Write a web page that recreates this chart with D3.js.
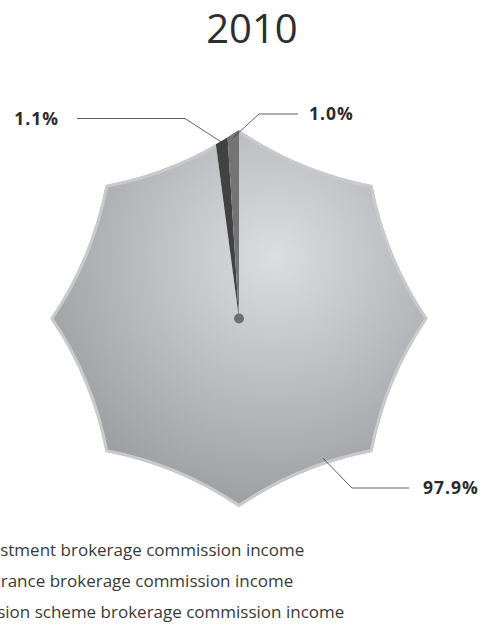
<!DOCTYPE html>
<html>
<head>
<meta charset="utf-8">
<script src="https://cdn.jsdelivr.net/npm/d3@7"></script>
<style>
  html, body { margin: 0; padding: 0; background: #fff; }
  svg { display: block; font-family: "Open Sans", "DejaVu Sans", sans-serif; }
</style>
</head>
<body>
<div id="chart"></div>
<script>
'use strict';

// chart data
var title = '2010';
var categories = [
  'Investment brokerage commission income',
  'Insurance brokerage commission income',
  'Pension scheme brokerage commission income'
];
var values = [97.9, 1.1, 1.0];
var valueLabels = ['97.9%', '1.1%', '1.0%'];

var width = 489, height = 637;
var cx = 239, cy = 318.5;
var outerR = 187;      // star tips
var innerR = 158;      // control points of the concave edges
var colors = ['url(#mainGrad)', '#424242', '#747474'];

// leader line layout, one per slice (angle in degrees, null = slice middle)
var leaders = [
  { angle: 149, r: 163, ex: 352, ey: 488, tx: 409, anchor: 'start', lx: 423 },
  { angle: null, r: 177, ex: 185, ey: 118.5, tx: 77, anchor: 'end', lx: 59 },
  { angle: null, r: 181, ex: 259, ey: 114, tx: 298, anchor: 'start', lx: 309 }
];

var svg = d3.select('#chart').append('svg')
  .attr('width', width)
  .attr('height', height);

var defs = svg.append('defs');
// gradient coordinates are relative to the pie centre
var grad = defs.append('radialGradient')
  .attr('id', 'mainGrad')
  .attr('gradientUnits', 'userSpaceOnUse')
  .attr('cx', 35).attr('cy', -62).attr('r', 290);
grad.append('stop').attr('offset', 0).attr('stop-color', '#dcdde0');
grad.append('stop').attr('offset', 1).attr('stop-color', '#949598');

// 8-point star with concave edges
var starPath = function(R, r) {
  var p = d3.path();
  for (var i = 0; i < 8; i++) {
    var a0 = i * Math.PI / 4;
    var a1 = (i + 1) * Math.PI / 4;
    var am = (a0 + a1) / 2;
    if (i === 0) {
      p.moveTo(R * Math.sin(a0), -R * Math.cos(a0));
    }
    p.quadraticCurveTo(r * Math.sin(am), -r * Math.cos(am),
      R * Math.sin(a1), -R * Math.cos(a1));
  }
  p.closePath();
  return p.toString();
};

defs.append('clipPath').attr('id', 'starClip')
  .append('path')
  .attr('d', starPath(outerR + 1.5, innerR + 1.5));

svg.append('text')
  .attr('x', 252)
  .attr('y', 43)
  .attr('text-anchor', 'middle')
  .attr('font-size', 40)
  .attr('font-weight', 400)
  .attr('fill', '#2e2e2e')
  .text(title);

var g = svg.append('g').attr('transform', 'translate(' + cx + ',' + cy + ')');

var pie = d3.pie().sort(null);
var arcs = pie(values);
var arc = d3.arc().innerRadius(0).outerRadius(260);

var slices = g.append('g').attr('clip-path', 'url(#starClip)');

slices.append('path')
  .attr('d', arc(arcs[0]))
  .attr('fill', colors[0]);

g.append('path')
  .attr('d', starPath(outerR, innerR))
  .attr('fill', 'none')
  .attr('stroke', '#c9cacc')
  .attr('stroke-width', 3);

var small = g.append('g').attr('clip-path', 'url(#starClip)');
small.selectAll('path')
  .data(arcs.slice(1))
  .enter().append('path')
  .attr('d', arc)
  .attr('fill', function(d, i) { return colors[i + 1]; });

g.append('circle')
  .attr('r', 5)
  .attr('cx', 0)
  .attr('cy', 0)
  .attr('fill', '#6e6f72');

// leader lines and value labels
arcs.forEach(function(d, i) {
  var L = leaders[i];
  var a = L.angle === null ? (d.startAngle + d.endAngle) / 2 : L.angle * Math.PI / 180;
  var sx = cx + L.r * Math.sin(a);
  var sy = cy - L.r * Math.cos(a);
  svg.append('polyline')
    .attr('points', [[sx, sy], [L.ex, L.ey], [L.tx, L.ey]].map(function(p) { return p.join(','); }).join(' '))
    .attr('fill', 'none')
    .attr('stroke', '#3a3a3a')
    .attr('stroke-width', 0.8);
  svg.append('text')
    .attr('x', L.lx)
    .attr('y', L.ey)
    .attr('dy', '0.36em')
    .attr('text-anchor', L.anchor)
    .attr('font-size', 17.5)
    .attr('font-weight', 700)
    .attr('letter-spacing', 1)
    .attr('fill', '#2b2b2b')
    .text(valueLabels[i]);
});

// legend (runs off the left edge like the original)
var legend = svg.append('g').attr('transform', 'translate(-33,0)');
var rows = legend.selectAll('g')
  .data(categories)
  .enter().append('g')
  .attr('transform', function(d, i) { return 'translate(0,' + (556.3 + i * 30.6) + ')'; });
rows.append('rect')
  .attr('x', -28).attr('y', -13)
  .attr('width', 14).attr('height', 14)
  .attr('fill', function(d, i) { return i === 0 ? '#b4b5b8' : colors[i]; });
rows.append('text')
  .attr('x', 0)
  .attr('font-size', 17)
  .attr('fill', '#3a3a3a')
  .text(function(d) { return d; });
</script>
</body>
</html>
